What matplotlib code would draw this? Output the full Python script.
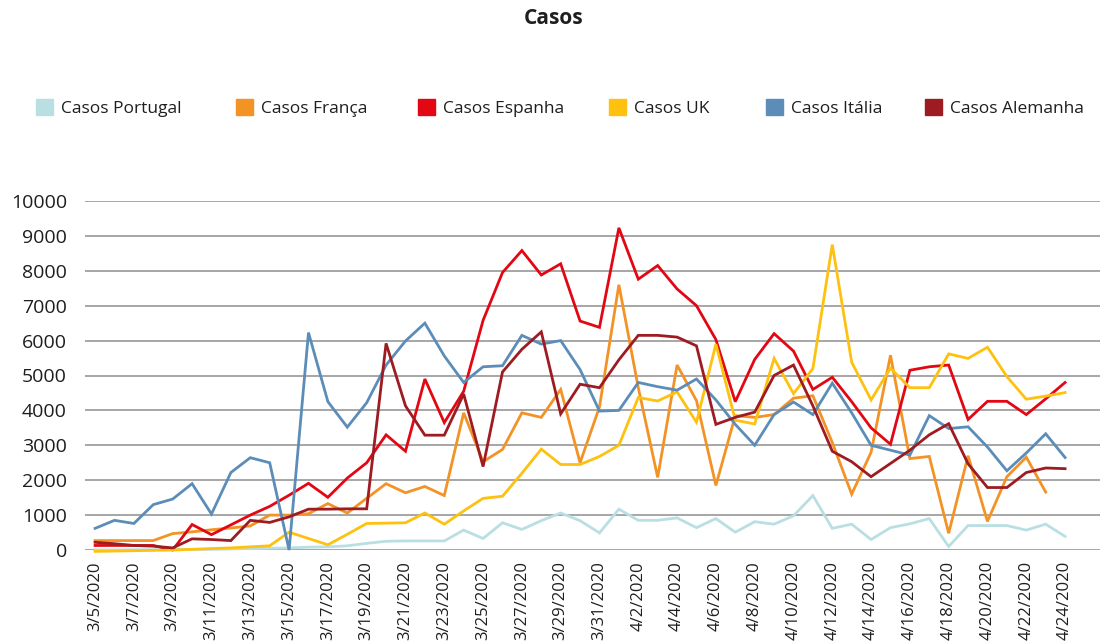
import matplotlib.pyplot as plt
import numpy as np
import pandas as pd

# categories: one point per day, 3/5/2020 .. 4/24/2020
dates = pd.date_range('2020-03-05', '2020-04-24')
labels = [f'{d.month}/{d.day}/{d.year}' for d in dates]

portugal = [5, 5, 8, 10, 10, 15, 20, 30, 40, 50,
            60, 80, 90, 120, 190, 250, 260, 260, 260, 570,
            330, 780, 590, 840, 1060, 840, 490, 1170, 850, 850,
            920, 640, 900, 510, 810, 740, 980, 1560, 620, 740,
            300, 640, 750, 900, 100, 700, 700, 700, 570, 740, 390]
franca = [270, 270, 270, 270, 470, 520, 580, 630, 690, 1000,
          1000, 1040, 1330, 1060, 1480, 1900, 1640, 1820, 1560, 3930,
          2530, 2880, 3930, 3800, 4600, 2500, 4100, 7600, 4650, 2080,
          5300, 4280, 1850, 3850, 3800, 3880, 4350, 4420, 3080, 1600,
          2800, 5580, 2620, 2680, 480, 2700, 820, 2100, 2660, 1660, np.nan]
espanha = [130, 130, 130, 130, 0, 730, 440, 720, 1000, 1250,
           1570, 1910, 1510, 2060, 2500, 3300, 2830, 4900, 3650, 4550,
           6580, 7950, 8580, 7880, 8200, 6560, 6380, 9230, 7760, 8150,
           7480, 7000, 6030, 4250, 5460, 6200, 5700, 4600, 4950, 4250,
           3500, 3030, 5150, 5250, 5300, 3740, 4260, 4260, 3880, 4330, 4800]
uk = [-40, -30, -20, -10, 0, 20, 40, 60, 90, 120,
      510, 330, 150, 450, 760, 770, 780, 1060, 740, 1120,
      1480, 1540, 2200, 2890, 2450, 2450, 2680, 3000, 4370, 4270,
      4530, 3660, 5900, 3720, 3610, 5490, 4480, 5200, 8750, 5380,
      4300, 5210, 4650, 4650, 5620, 5490, 5810, 4970, 4320, 4410, 4510]
italia = [620, 850, 760, 1300, 1460, 1900, 1030, 2220, 2645, 2500,
          0, 6230, 4250, 3520, 4220, 5300, 5990, 6500, 5560, 4800,
          5250, 5280, 6150, 5900, 6000, 5170, 3980, 4000, 4800, 4680,
          4580, 4900, 4300, 3600, 3000, 3880, 4240, 3880, 4780, 3930,
          3000, 2860, 2720, 3850, 3480, 3530, 2950, 2270, 2780, 3330, 2650]
alemanha = [220, 180, 130, 110, 60, 320, 300, 270, 850, 790,
            950, 1170, 1170, 1180, 1180, 5920, 4130, 3290, 3290, 4470,
            2390, 5100, 5750, 6250, 3900, 4750, 4650, 5450, 6150, 6150,
            6100, 5850, 3600, 3800, 3950, 5000, 5300, 4130, 2830, 2530,
            2100, 2480, 2860, 3300, 3620, 2470, 1790, 1790, 2220, 2350, 2330]

names = ['Casos Portugal', 'Casos França', 'Casos Espanha', 'Casos UK', 'Casos Itália', 'Casos Alemanha']
values = [portugal, franca, espanha, uk, italia, alemanha]
colors = ['#b9dfe3', '#f39325', '#e30613', '#fec10f', '#5b8db8', '#9e1b22']
legend_x = [36, 236, 418, 609, 766, 925]  # px, left of each legend key

W, H = 1107, 644
txt = '#1e1e1e'
plt.rcParams['font.family'] = ['Open Sans', 'DejaVu Sans']

fig = plt.figure(figsize=(W/100, H/100), dpi=100)
ax = fig.add_axes([85/W, 1-550/H, (1100-85)/W, (550-201)/H])

x = np.arange(len(dates))
handles = []
for name, vals, col in zip(names, values, colors):
    ax.plot(x, vals, color=col, lw=2.0, clip_on=False, solid_joinstyle='miter')
    handles.append(plt.Rectangle((0, 0), 1, 1, color=col, label=name))

ax.set_ylim(0, 10000)
ax.set_xlim(-0.52, 51.8)
ax.set_yticks(range(0, 10001, 1000))
ax.set_xticks(x[::2])
ax.set_xticklabels(labels[::2], rotation=90, fontsize=12)
ax.tick_params(axis='y', labelsize=14, pad=13)
ax.tick_params(length=0, colors=txt)
ax.tick_params(axis='x', pad=8)
ax.grid(axis='y', color='#a6a6a6', lw=1.4)
ax.set_axisbelow(True)
for s in ax.spines.values():
    s.set_visible(False)

fig.text(0.5, 1-19/H, 'Casos', ha='center', va='center', fontsize=15,
         fontweight='bold', color=txt)

for h, lx in zip(handles, legend_x):
    fig.legend(handles=[h], loc='center left', bbox_to_anchor=(lx/W, 1-108/H),
               frameon=False, borderpad=0, borderaxespad=0, handlelength=1.0,
               handleheight=1.0, handletextpad=0.45,
               prop={'size': 12.5}, labelcolor=txt)

fig.savefig('out.png', dpi=100)
